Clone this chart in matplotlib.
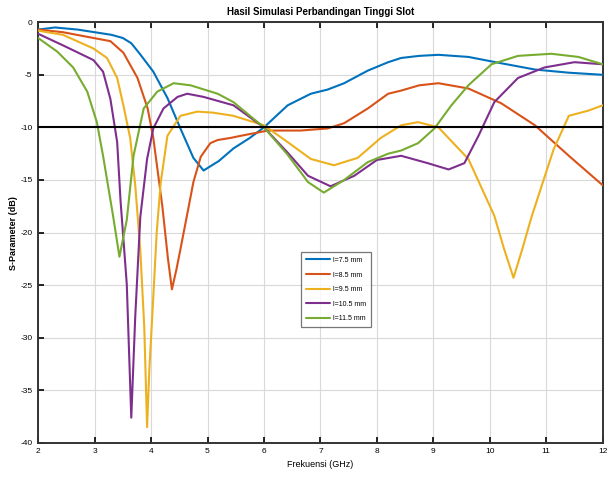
import matplotlib
matplotlib.use("Agg")
import matplotlib.pyplot as plt

plt.rcParams['font.family'] = ['Liberation Sans Narrow', 'Liberation Sans', 'DejaVu Sans']
plt.rcParams['axes.unicode_minus'] = False

# S11 curves for each slot height (frequency in GHz, magnitude in dB)
f_75 = [2.0, 2.3, 2.7, 3.0, 3.3, 3.5, 3.65, 3.8, 4.04, 4.29, 4.52, 4.75, 4.93, 5.2,
        5.46, 5.75, 6.0, 6.42, 6.83, 7.13, 7.42, 7.84, 8.2, 8.43, 8.75, 9.09, 9.62,
        10.2, 10.8, 11.4, 12.0]
s_75 = [-0.7, -0.5, -0.7, -0.95, -1.2, -1.5, -2.0, -3.0, -4.7, -7.2, -10.1, -12.9,
        -14.1, -13.2, -12.0, -11.0, -10.0, -7.9, -6.8, -6.4, -5.8, -4.6, -3.8, -3.4,
        -3.2, -3.1, -3.3, -3.9, -4.5, -4.8, -5.0]

f_85 = [2.0, 2.44, 2.98, 3.28, 3.51, 3.76, 3.94, 4.04, 4.2, 4.3, 4.37, 4.45, 4.52,
        4.65, 4.75, 4.88, 5.05, 5.18, 5.41, 5.59, 6.07, 6.65, 7.13, 7.42, 7.84, 8.2,
        8.43, 8.75, 9.09, 9.62, 10.2, 10.8, 11.4, 12.0]
s_85 = [-0.7, -0.95, -1.5, -1.8, -2.9, -5.3, -8.2, -11.0, -17.5, -22.5, -25.4, -23.5,
        -21.6, -18.0, -15.2, -12.8, -11.5, -11.2, -11.0, -10.8, -10.3, -10.3, -10.1,
        -9.6, -8.2, -6.8, -6.5, -6.0, -5.8, -6.3, -7.7, -9.8, -12.7, -15.5]

f_95 = [2.0, 2.44, 2.98, 3.22, 3.4, 3.51, 3.63, 3.72, 3.81, 3.88, 3.93, 3.97, 4.02,
        4.1, 4.17, 4.29, 4.52, 4.82, 5.1, 5.46, 6.0, 6.42, 6.83, 7.24, 7.66, 8.07,
        8.43, 8.73, 9.09, 9.62, 10.08, 10.25, 10.42, 10.58, 10.74, 11.13, 11.4,
        11.75, 12.0]
s_95 = [-0.8, -1.2, -2.5, -3.4, -5.3, -7.9, -11.0, -15.5, -21.7, -29.0, -38.5, -33.0,
        -28.1, -20.0, -15.3, -10.8, -8.9, -8.5, -8.6, -8.9, -9.8, -11.4, -13.0, -13.6,
        -12.9, -11.0, -9.8, -9.5, -10.0, -13.0, -18.4, -21.5, -24.3, -21.5, -18.5,
        -12.1, -8.9, -8.4, -7.9]

f_105 = [2.0, 2.44, 2.98, 3.15, 3.28, 3.4, 3.46, 3.57, 3.65, 3.72, 3.81, 3.93, 4.04,
         4.22, 4.47, 4.64, 4.93, 5.46, 6.0, 6.42, 6.78, 7.18, 7.6, 8.0, 8.43, 8.9,
         9.27, 9.55, 9.8, 10.08, 10.5, 10.97, 11.5, 12.0]
s_105 = [-1.1, -2.2, -3.6, -4.7, -7.3, -11.4, -17.0, -24.9, -37.6, -28.0, -18.5, -13.0,
         -10.1, -8.2, -7.1, -6.8, -7.1, -7.9, -10.0, -12.4, -14.6, -15.6, -14.6, -13.1,
         -12.7, -13.4, -14.0, -13.4, -10.8, -7.6, -5.3, -4.3, -3.8, -4.0]

f_115 = [2.0, 2.34, 2.62, 2.87, 3.04, 3.15, 3.33, 3.44, 3.57, 3.69, 3.87, 4.11, 4.4,
         4.7, 5.18, 5.46, 6.0, 6.42, 6.78, 7.06, 7.42, 7.84, 8.2, 8.43, 8.73, 9.02,
         9.32, 9.62, 10.03, 10.5, 11.09, 11.57, 12.0]
s_115 = [-1.5, -2.8, -4.3, -6.6, -9.5, -12.7, -18.5, -22.3, -18.8, -12.7, -8.2, -6.6,
         -5.8, -6.0, -6.8, -7.6, -10.0, -12.6, -15.2, -16.2, -15.0, -13.3, -12.5, -12.2,
         -11.5, -10.1, -7.9, -6.0, -4.0, -3.2, -3.0, -3.3, -4.0]

labels = ["l=7.5 mm", "l=8.5 mm", "l=9.5 mm", "l=10.5 mm", "l=11.5 mm"]
colors = ["#0072BD", "#D95319", "#EDB120", "#7E2F8E", "#77AC30"]
x_ticks = [2, 3, 4, 5, 6, 7, 8, 9, 10, 11, 12]
y_ticks = [0, -5, -10, -15, -20, -25, -30, -35, -40]
threshold = -10

fig = plt.figure(figsize=(6.15, 4.83), dpi=100)
ax = fig.add_axes([0.062, 0.083, 0.918, 0.871])

series = [(f_75, s_75), (f_85, s_85), (f_95, s_95), (f_105, s_105), (f_115, s_115)]
for (f, s), lab, c in zip(series, labels, colors):
    ax.plot(f, s, color=c, lw=1.5, label=lab, zorder=3,
            solid_joinstyle="round", solid_capstyle="round")

ax.axhline(threshold, color="black", lw=1.5, zorder=4)

ax.set_xlim(2, 12)
ax.set_ylim(-40, 0)
ax.set_xticks(x_ticks)
ax.set_yticks(y_ticks)
ax.grid(True, color="#d9d9d9", lw=0.8)
ax.tick_params(direction="in", length=4, width=1.2, labelsize=6, top=True,
               right=False, pad=4)
for sp in ax.spines.values():
    sp.set_linewidth(1.4)
    sp.set_color("#333333")

ax.set_title("Hasil Simulasi Perbandingan Tinggi Slot", fontsize=7,
             fontweight="bold", pad=5)
ax.set_xlabel("Frekuensi (GHz)", fontsize=6.5, labelpad=3)
ax.set_ylabel("S-Parameter (dB)", fontsize=6.5, fontweight="bold", labelpad=2)

leg = ax.legend(loc="upper left", bbox_to_anchor=(0.46, 0.462), fontsize=5,
                frameon=True, fancybox=False, edgecolor="#555555",
                handlelength=3.4, borderpad=0.7, labelspacing=1.1,
                handletextpad=0.4)
leg.get_frame().set_linewidth(0.9)

fig.savefig("out.png", dpi=100)
